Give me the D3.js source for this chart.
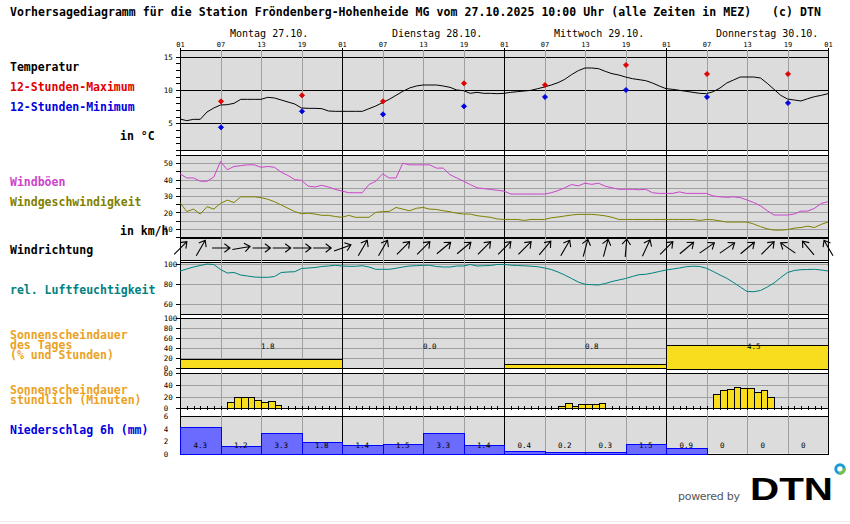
<!DOCTYPE html>
<html><head><meta charset="utf-8">
<script src="https://cdn.jsdelivr.net/npm/d3@7"></script>
<style>body{margin:0;background:#fff}svg{display:block}</style>
</head><body><svg id="c" width="850" height="524"></svg>
<script>
// ---------------- data ----------------
const titleText = "Vorhersagediagramm für die Station Fröndenberg-Hohenheide MG vom 27.10.2025 10:00 Uhr (alle Zeiten in MEZ)   (c) DTN";
const days = ["Montag 27.10.", "Dienstag 28.10.", "Mittwoch 29.10.", "Donnerstag 30.10."];
const hourLabels = ["01", "07", "13", "19"];

// hourly values, index 0 = Mo 01:00 ... 96 = Fr 01:00
const temperature = [5.65,5.4,5.6,5.6,6.7,7.3,7.75,7.8,8.0,8.6,8.6,8.6,8.6,8.9,8.8,8.5,8.2,7.9,7.3,7.25,7.25,7.2,6.85,6.8,
  6.8,6.8,6.8,6.8,7.2,7.6,8.1,8.6,9.2,9.8,10.3,10.6,10.75,10.75,10.75,10.6,10.4,10.0,9.9,9.5,9.65,9.5,9.5,9.45,
  9.5,9.65,9.75,9.85,9.95,10.2,10.45,10.75,11.1,11.6,12.3,12.9,13.3,13.3,13.2,12.8,12.45,12.25,11.95,11.7,11.55,11.4,11.05,10.6,
  10.2,10.1,9.95,9.8,9.65,9.5,9.45,9.75,10.3,11.05,11.5,11.95,11.95,11.95,11.8,11.0,10.1,9.2,8.65,8.5,8.35,8.7,9.0,9.2,9.45];
const extremeHours = [6, 18, 30, 42, 54, 66, 78, 90];
const tempMax = [8.3, 9.2, 8.3, 11.0, 10.75, 13.75, 12.4, 12.4];
const tempMin = [4.4, 6.8, 6.35, 7.55, 8.95, 10.0, 8.95, 8.05];

const gusts = [43.5,41,41,39,39,41.5,51,46,48,48.5,49,49,47.5,48,47.5,44.5,42.5,40,39.5,36,35.5,36.5,35.5,34,
  33,32,32,32,37,39,43.5,41,41,50,49,49,49,49,47,47,43,41,39,37,35,34.5,34,33.5,
  33,31.2,31.2,31.2,31.2,31.2,31.2,32,33.3,35,37,36.2,37.8,37.1,37.8,36,35,34.1,34.1,34.1,33.8,34.1,32,31.6,
  31.6,31.6,32.5,31.6,31.6,31.6,31.6,30,29.5,29.2,29.5,29,27.6,26,24,21,18.4,18.4,18.4,19,20.8,20.8,22.5,25.5,26.5];
const windSpeed = [26,20.5,22,19,23.5,22,25.5,27.5,26,29.5,29.5,29.5,29,28,26.5,24.5,22.5,20.5,19.2,19.5,19,18.2,18.2,17.5,
  17,18.2,17,17,17,20,20.5,20.6,23,22,21,22.5,23,22,21.8,21,20.4,19.5,19,19,18,17.5,17,16,
  15.7,15.7,15.7,15.1,15.7,15.7,15.7,16.7,17.2,17.8,18.4,18.8,18.8,18.8,18.4,17.9,17,15.7,15.7,15.7,15.7,15.7,15.7,15.7,
  15.7,15.7,15.7,15.7,15.7,15.1,15.7,15.5,14.8,14.1,14.1,14.1,14.1,12.9,11.3,10,9.2,9.2,9.5,10.4,10.8,11.6,10.8,12.7,14.1];
// wind direction (degrees, coming from), every 3 hours from Mo 01:00
const windDir = [225,210,270,260,270,270,270,270, 250,210,210,225,225,230,230,225,
  225,225,220,210,195,195,185,205, 225,230,235,235,230,225,125,140,150];
const humidity = [93,95,97,98.5,100,99.5,94.5,91,91.5,89,88,87,86.7,86.7,87.5,91.5,92,92.3,95.5,96,96.5,97.5,98,98.7,
  98,97.7,97.7,98.3,97,94.7,94.7,94.7,95.7,97,98,98.3,98.7,98.7,97.5,97,97,98,98,99.5,98,98.3,98.5,99.5,
  99.6,98.8,98.5,98.2,97.8,97.3,96,94.5,92,89,85.5,82,79.7,79.3,79,80.5,82.5,84,85.5,87.5,89.3,89.7,91,92.5,
  94,95,96,97.3,97.8,97.5,95.7,92.5,89,85.7,81.5,77,72.5,72.3,73.5,77,81,86.5,91.5,93.5,94.3,94.5,94.7,94,93];
const sunDailyPct = [18, 0, 8, 47];
const sunDailyHours = ["1.8", "0.0", "0.8", "4.5"];
const sunHours = [7,8,9,10,11,12,13,14, 56,57,58,59,60,61,62, 79,80,81,82,83,84,85,86,87];
const sunMinutes = [10,20,20,19,14,10,12.5,5, 4.5,8.5,4.5,7,7,7,8.5, 24,31,32.5,36,34.5,34.5,27.5,31,19];
const precip6h = [4.3,1.2,3.3,1.8,1.4,1.5,3.3,1.4,0.4,0.2,0.3,1.5,0.9,0,0,0];

const tempTicks = d3.range(1, 16), tempLabelled = [5, 10, 15];
const windTicks = d3.range(5, 56, 5), windLabelled = [10, 20, 30, 40, 50];
const humTicks = [60, 80, 100];
const sunDailyTicks = [0, 20, 40, 60, 80, 100];
const sunHourTicks = [0, 20, 40, 60];
const precipTicks = [0, 2, 4, 6];

const sideLabels = [
  ["Temperatur", "#000"], ["12-Stunden-Maximum", "#e00000"], ["12-Stunden-Minimum", "#0000e0"], ["in °C", "#000"],
  ["Windböen", "#cc44cc"], ["Windgeschwindigkeit", "#808000"], ["in km/h", "#000"], ["Windrichtung", "#000"],
  ["rel. Luftfeuchtigkeit", "#008080"], ["Sonnenscheindauer", "#eba224"], ["des Tages", "#eba224"], ["(% und Stunden)", "#eba224"],
  ["Sonnenscheindauer", "#eba224"], ["stündlich (Minuten)", "#eba224"], ["Niederschlag 6h (mm)", "#0000e0"]
];

// ---------------- drawing ----------------
const MONO = "'DejaVu Sans Mono', monospace";
const svg = d3.select("#c");
const x = d3.scaleLinear().domain([0, 96]).range([180, 828]);
const yT = d3.scaleLinear().domain([1, 16]).range([150, 50]);
const yW = d3.scaleLinear().domain([5, 55]).range([237, 155]);
const yD = d3.scaleLinear().domain([0, 1]).range([260, 238]);
const yH = d3.scaleLinear().domain([50, 102]).range([314, 262]);
const yS = d3.scaleLinear().domain([0, 100]).range([368, 318]);
const yM = d3.scaleLinear().domain([0, 60]).range([408.3, 373.3]);
const yP = d3.scaleLinear().domain([0, 6]).range([453.5, 416]);
const scales = [yT, yW, yD, yH, yS, yM, yP];
const px = v => Math.round(v) + 0.5;

// title
svg.append("text").attr("x", 10).attr("y", 16).attr("font-family", MONO).attr("font-weight", "bold")
  .attr("font-size", 11.5).attr("textLength", 811).attr("lengthAdjust", "spacing")
  .style("white-space", "pre").attr("xml:space", "preserve").text(titleText);

// panel backgrounds
const bg = svg.append("g");
scales.forEach(s => {
  const r = s.range();
  bg.append("rect").attr("x", 180).attr("y", Math.min(...r)).attr("width", 648)
    .attr("height", Math.abs(r[0] - r[1])).attr("fill", "#dcdcdc");
});

// horizontal grid
const hg = svg.append("g").attr("shape-rendering", "crispEdges");
function hlines(scale, vals, color) {
  hg.selectAll(null).data(vals).enter().append("line")
    .attr("x1", 180).attr("x2", 828).attr("y1", d => px(scale(d))).attr("y2", d => px(scale(d)))
    .attr("stroke", color).attr("stroke-width", 1);
}
hlines(yW, [10,15,20,25,30,35,40,45,50], "#a0a0a0");
hlines(yH, [60, 80, 100], "#a0a0a0");
hlines(yS, [20, 40, 60, 80], "#a0a0a0");
hlines(yM, [20, 40], "#a0a0a0");

// vertical grid
const vg = svg.append("g").attr("shape-rendering", "crispEdges");
vg.selectAll(null).data(d3.range(0, 97, 6)).enter().append("line")
  .attr("x1", d => px(x(d))).attr("x2", d => px(x(d)))
  .attr("y1", d => d % 24 === 0 ? 48 : 50).attr("y2", 454)
  .attr("stroke", d => d % 24 === 0 ? "#000" : "#a0a0a0");

hlines(yT, [5, 10, 15], "#000");
hlines(yM, [0], "#000");

// panel borders
scales.forEach(s => {
  const r = s.range();
  [Math.min(...r), Math.max(...r)].forEach(v => {
    hg.append("line").attr("x1", 180).attr("x2", 829).attr("y1", px(v)).attr("y2", px(v)).attr("stroke", "#000");
  });
});
vg.append("line").attr("x1", px(180)).attr("x2", px(180)).attr("y1", 48).attr("y2", 454).attr("stroke", "#000");
vg.append("line").attr("x1", px(828)).attr("x2", px(828)).attr("y1", 48).attr("y2", 454).attr("stroke", "#000");

// top labels
svg.selectAll(null).data(days).enter().append("text")
  .attr("x", (d, i) => x(i * 24) + 50).attr("y", 36.5).attr("font-family", MONO).attr("font-size", 10).text(d => d);
svg.selectAll(null).data(d3.range(0, 97, 6)).enter().append("text")
  .attr("x", d => x(d) + 0.5).attr("y", 47).attr("text-anchor", "middle").attr("font-family", MONO)
  .attr("font-size", 7).text(d => hourLabels[(d / 6) % 4]);

// side labels
const sideY = [71, 91, 111, 140, 186, 206, 235, 254, 294, 339, 348.5, 359, 394, 404, 434];
svg.selectAll(null).data(sideLabels).enter().append("text")
  .attr("x", (d, i) => (i === 3 || i === 6) ? 120 : 10).attr("y", (d, i) => sideY[i])
  .attr("font-family", MONO).attr("font-weight", "bold").attr("font-size", 11.5)
  .attr("fill", d => d[1]).text(d => d[0]);

// left axes
function leftAxis(scale, ticks, fmt, size, startX) {
  const a = svg.append("g").attr("transform", "translate(180.5,0)")
    .call(d3.axisLeft(scale).tickValues(ticks).tickSize(size).tickFormat(fmt));
  a.select(".domain").remove();
  a.selectAll("line").attr("shape-rendering", "crispEdges");
  a.selectAll("text").attr("font-family", MONO).attr("font-size", 7.5).attr("text-anchor", "start")
    .attr("x", function (d) { return startX(d, d3.select(this).text()); }).attr("dy", "0.35em");
  return a;
}
const st = (d, t) => t.length === 1 ? -12.3 : -16.8;
leftAxis(yT, tempTicks, d => tempLabelled.includes(d) ? d : "", 5, st);
leftAxis(yW, windTicks, d => windLabelled.includes(d) ? d : "", 5, st);
leftAxis(yH, humTicks, d => d, 5, () => -16.8);
leftAxis(yS, sunDailyTicks, d => d, 5, () => -16.8);
leftAxis(yM, sunHourTicks, d => d, 5, () => -16.8);
leftAxis(yP, precipTicks, d => d, 0, () => -16.8);

// temperature
const plot = svg.append("g");
plot.append("path").datum(temperature)
  .attr("d", d3.line().x((d, i) => x(i)).y(d => yT(d)))
  .attr("fill", "none").attr("stroke", "#000").attr("stroke-width", 1);
const marker = "M0,-2.6L2.6,0L0,2.6L-2.6,0Z";
plot.selectAll(null).data(tempMax).enter().append("path")
  .attr("d", marker).attr("transform", (d, i) => `translate(${x(extremeHours[i]) + 0.5},${yT(d)})`)
  .attr("fill", "#e00000").attr("stroke", "#e00000").attr("stroke-width", 0.8);
plot.selectAll(null).data(tempMin).enter().append("path")
  .attr("d", marker).attr("transform", (d, i) => `translate(${x(extremeHours[i]) + 0.5},${yT(d)})`)
  .attr("fill", "#0000e0").attr("stroke", "#0000e0").attr("stroke-width", 0.8);

// wind
plot.append("path").datum(gusts).attr("d", d3.line().x((d, i) => x(i)).y(d => yW(d)))
  .attr("fill", "none").attr("stroke", "#cc44cc").attr("stroke-width", 1);
plot.append("path").datum(windSpeed).attr("d", d3.line().x((d, i) => x(i)).y(d => yW(d)))
  .attr("fill", "none").attr("stroke", "#808000").attr("stroke-width", 1);

// wind direction arrows
const arrowG = plot.append("g").attr("stroke", "#000").attr("stroke-width", 1.1).attr("fill", "none");
windDir.forEach((dir, i) => {
  const cx = x(i * 3) + 0.5, cy = yD(0.5) - 1;
  const b = (dir + 180) * Math.PI / 180;
  const dx = Math.sin(b), dy = -Math.cos(b), L = 9, H = 7;
  const tx = cx + dx * L, ty = cy + dy * L;
  const a1 = b + Math.PI - 0.65, a2 = b + Math.PI + 0.65;
  arrowG.append("path").attr("d",
    `M${cx - dx * L},${cy - dy * L}L${tx},${ty}` +
    `M${tx + Math.sin(a1) * H},${ty - Math.cos(a1) * H}L${tx},${ty}L${tx + Math.sin(a2) * H},${ty - Math.cos(a2) * H}`);
});

// humidity
plot.append("path").datum(humidity).attr("d", d3.line().x((d, i) => x(i)).y(d => yH(d)))
  .attr("fill", "none").attr("stroke", "#008080").attr("stroke-width", 1);

// daily sunshine
const sunFill = "#f8dc1e";
plot.selectAll(null).data(sunDailyPct).enter().filter(d => d > 0).append("rect")
  .attr("x", (d, i) => px(x(sunDailyPct.indexOf(d) * 24)))
  .attr("y", d => px(yS(d))).attr("width", 162).attr("height", d => yS(0) - yS(d))
  .attr("fill", sunFill).attr("stroke", "#000").attr("shape-rendering", "crispEdges");
plot.selectAll(null).data(sunDailyHours).enter().append("text")
  .attr("x", (d, i) => x(i * 24 + 12)).attr("y", 349).attr("font-family", MONO).attr("font-size", 7.5).text(d => d);

// hourly sunshine
plot.selectAll(null).data(sunMinutes).enter().append("rect")
  .attr("x", (d, i) => px(x(sunHours[i]))).attr("y", d => px(yM(d)))
  .attr("width", (d, i) => Math.round(x(sunHours[i] + 1)) - Math.round(x(sunHours[i])))
  .attr("height", d => Math.round(yM(0)) - Math.round(yM(d)))
  .attr("fill", sunFill).attr("stroke", "#000").attr("shape-rendering", "crispEdges");
plot.selectAll(null).data(d3.range(1, 96)).enter().append("line")
  .attr("x1", d => px(x(d))).attr("x2", d => px(x(d))).attr("y1", yM(0) - 2).attr("y2", yM(0) + 2)
  .attr("stroke", "#000").attr("shape-rendering", "crispEdges");

// precipitation
plot.selectAll(null).data(precip6h).enter().append("rect")
  .attr("x", (d, i) => px(x(i * 6))).attr("y", d => px(yP(d)))
  .attr("width", (d, i) => Math.round(x(i * 6 + 6)) - Math.round(x(i * 6)))
  .attr("height", d => Math.round(yP(0)) - Math.round(yP(d)))
  .attr("fill", "#6b6bff").attr("stroke", "#0000ff").attr("stroke-width", 1.3).attr("shape-rendering", "crispEdges");
plot.selectAll(null).data(precip6h).enter().append("text")
  .attr("x", (d, i) => x(i * 6 + 3) - 6.7).attr("y", 447.8).attr("font-family", MONO).attr("font-size", 7.5)
  .text(d => d === 0 ? "0" : d.toFixed(1));

// footer / logo
svg.append("text").attr("x", 678).attr("y", 500).attr("font-family", "'DejaVu Sans', sans-serif")
  .attr("font-size", 11).attr("fill", "#555").attr("textLength", 62).text("powered by");
svg.append("text").attr("x", 750).attr("y", 500).attr("font-family", "'Liberation Sans', Arial, sans-serif")
  .attr("font-weight", "bold").attr("font-size", 32).attr("textLength", 83).attr("lengthAdjust", "spacingAndGlyphs")
  .attr("fill", "#000").text("DTN");
svg.append("circle").attr("cx", 840).attr("cy", 469).attr("r", 4.2).attr("fill", "none")
  .attr("stroke", "#1a9ad6").attr("stroke-width", 3);
svg.append("path").attr("d", d3.arc()({innerRadius: 2.7, outerRadius: 5.7, startAngle: 1.4, endAngle: 3.4}))
  .attr("transform", "translate(840,469)").attr("fill", "#7ac143");
svg.append("line").attr("x1", 0).attr("x2", 850).attr("y1", 521.5).attr("y2", 521.5).attr("stroke", "#ececec");
</script></body></html>
